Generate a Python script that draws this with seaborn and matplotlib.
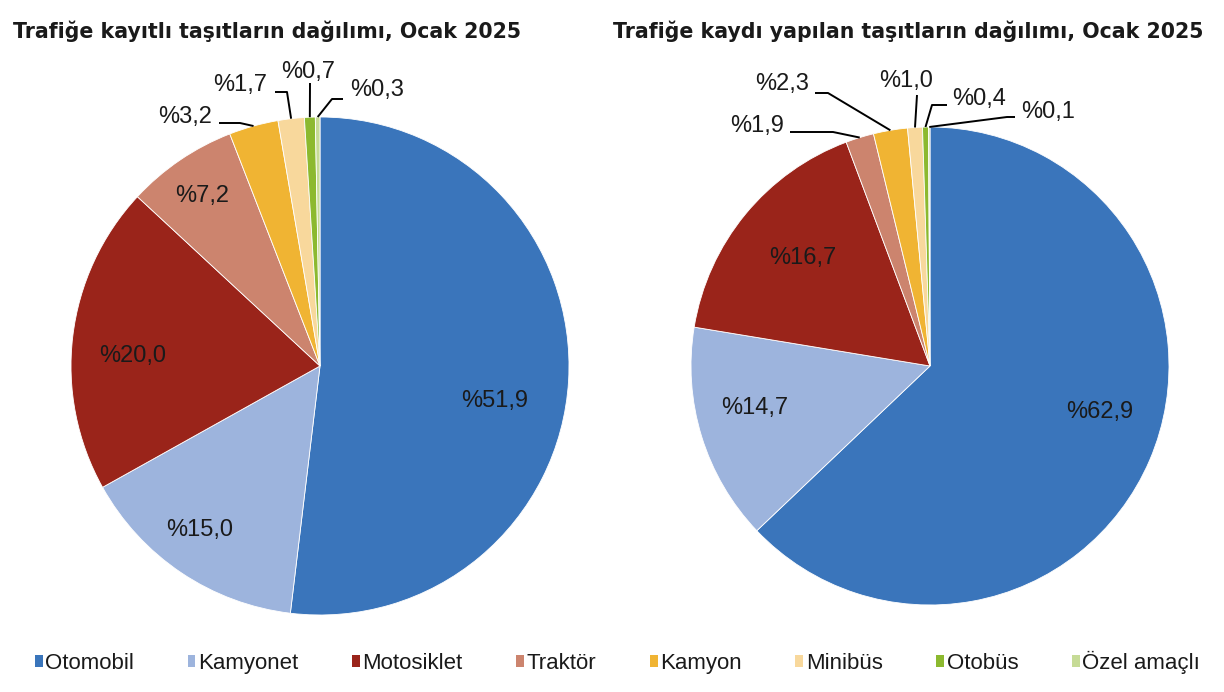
import numpy as np
import pandas as pd
import seaborn as sns
import matplotlib
matplotlib.use("Agg")
import matplotlib.pyplot as plt
from matplotlib.patches import Patch

# ---------------- data ----------------
categories = ["Otomobil", "Kamyonet", "Motosiklet", "Traktör", "Kamyon",
              "Minibüs", "Otobüs", "Özel amaçlı"]
registered_share = [51.9, 15.0, 20.0, 7.2, 3.2, 1.7, 0.7, 0.3]
new_registration_share = [62.9, 14.7, 16.7, 1.9, 2.3, 1.0, 0.4, 0.1]
titles = ["Trafiğe kayıtlı taşıtların dağılımı, Ocak 2025",
          "Trafiğe kaydı yapılan taşıtların dağılımı, Ocak 2025"]

# ---------------- style ----------------
colors = ["#3A75BB", "#9DB4DD", "#9A241A", "#CC846E", "#F0B433",
          "#F8D89C", "#8CB92F", "#C6DB96"]

sns.set_theme(style="white")
plt.rcParams["font.family"] = ["Liberation Sans", "DejaVu Sans"]
TXT = "#1a1a1a"

W, H = 1224, 692
fig = plt.figure(figsize=(W / 100, H / 100), dpi=100)
fig.patch.set_facecolor("white")

# label layout (pixel positions in the figure): text centre, leader elbow points
left_layout = {
    "center": (320, 366), "r": 249,
    "labels": [
        {"text": (495, 401)},
        {"text": (200, 530)},
        {"text": (133, 356)},
        {"text": (202, 196)},
        {"text": (185, 117), "line": [(219, 123), (240, 123)]},
        {"text": (240, 85), "line": [(275, 92), (287, 92)]},
        {"text": (308, 72), "line": [(310, 83)]},
        {"text": (377, 90), "line": [(343, 99), (332, 99)]},
    ],
}
right_layout = {
    "center": (930, 366), "r": 239,
    "labels": [
        {"text": (1100, 412)},
        {"text": (755, 408)},
        {"text": (803, 258)},
        {"text": (757, 126), "line": [(790, 132), (833, 132)]},
        {"text": (782, 84), "line": [(815, 93), (828, 93)]},
        {"text": (906, 81), "line": [(917, 95)]},
        {"text": (979, 99), "line": [(947, 105), (932, 105)]},
        {"text": (1048, 112), "line": [(1015, 117), (1007, 117)]},
    ],
}

M = 1.8  # axes margin factor (in radii)


def fmt(v):
    return "%" + f"{v:.1f}".replace(".", ",")


def draw_pie(values, layout):
    cx, cy = layout["center"]
    r = layout["r"]
    ax = fig.add_axes([(cx - M * r) / W, (H - cy - M * r) / H,
                       2 * M * r / W, 2 * M * r / H])
    ax.patch.set_visible(False)
    wedges, _ = ax.pie(values, colors=colors, startangle=90,
                       counterclock=False, radius=1.0,
                       wedgeprops=dict(edgecolor="white", linewidth=0.6))
    ax.set_xlim(-M, M)
    ax.set_ylim(-M, M)
    ax.set_aspect("equal")
    ax.axis("off")

    def to_data(p):
        return ((p[0] - cx) / r, (cy - p[1]) / r)

    for w, v, lab in zip(wedges, values, layout["labels"]):
        tx, ty = to_data(lab["text"])
        ax.text(tx, ty, fmt(v), ha="center", va="center", fontsize=17,
                color=TXT, clip_on=False)
        if "line" in lab:
            mid = np.deg2rad((w.theta1 + w.theta2) / 2)
            pts = [to_data(p) for p in lab["line"]] + [(np.cos(mid), np.sin(mid))]
            xs, ys = zip(*pts)
            ax.plot(xs, ys, color="black", lw=1.4, clip_on=False,
                    solid_capstyle="butt")
    return ax


draw_pie(registered_share, left_layout)
draw_pie(new_registration_share, right_layout)

title_font = dict(fontsize=14.8, fontweight="bold", color=TXT,
                  family=["DejaVu Sans"])
fig.text(13 / W, 1 - 31 / H, titles[0], ha="left", va="center", **title_font)
fig.text(613 / W, 1 - 31 / H, titles[1], ha="left", va="center", **title_font)

handles = [Patch(facecolor=c, edgecolor="none") for c in colors]
fig.legend(handles, categories, loc="center", bbox_to_anchor=(0.5045, 1 - 662 / H),
           ncol=8, frameon=False, handlelength=0.35, handleheight=0.45,
           handletextpad=0.12, columnspacing=2.41, fontsize=16,
           labelcolor=TXT)

fig.savefig("out.png", dpi=100, facecolor="white")
